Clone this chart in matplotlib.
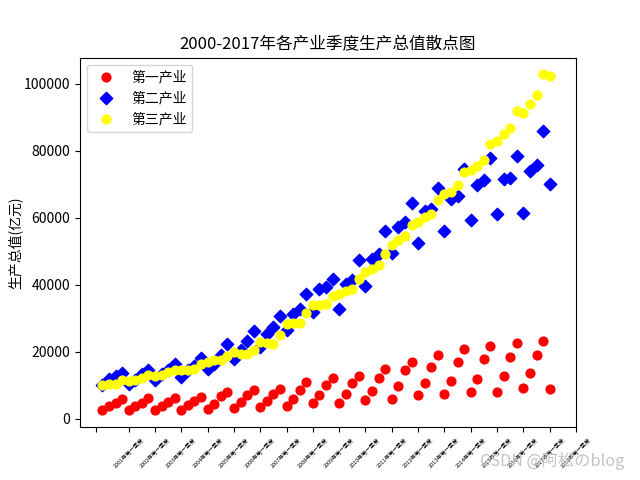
import numpy as np
import matplotlib
matplotlib.use("Agg")
import matplotlib.pyplot as plt

plt.rcParams['font.family'] = ['Noto Sans CJK SC', 'DejaVu Sans']
plt.rcParams['axes.unicode_minus'] = False

quarters = list(range(1, 70))

primary = [2478, 3672, 4766, 5860,
           2478, 3672, 4766, 6159,
           2478, 3672, 5066, 6259,
           2678, 3970, 5364, 6558,
           2976, 4468, 6857, 8051,
           3275, 4866, 7055, 8448,
           3373, 5263, 7254, 8946,
           3871, 5860, 8648, 10836,
           4766, 7055, 10040, 12030,
           4766, 7453, 10537, 12826,
           5463, 8349, 12129, 14916,
           5961, 9841, 14617, 17006,
           7155, 10737, 15513, 19095,
           7453, 11134, 17006, 20886,
           7851, 11930, 17802, 21780,
           8051, 12826, 18498, 22677,
           9245, 13722, 18895, 23274,
           8946]

secondary = [9940, 11731, 12626, 13731,
             10448, 11433, 13224, 14418,
             11433, 13224, 14418, 16209,
             12418, 14418, 15702, 18209,
             14925, 16209, 18895, 22388,
             17910, 20597, 23164, 26149,
             21373, 25373, 27343, 30627,
             26357, 31343, 32835, 37104,
             31821, 38805, 39283, 41582,
             32835, 40297, 41492, 47253,
             39700, 47760, 49044, 56000,
             49432, 57194, 58687, 64358,
             52536, 61880, 62686, 68954,
             56118, 65460, 66450, 74625,
             59402, 69640, 71133, 77910,
             60985, 71640, 71820, 78500,
             61490, 73910, 75610, 85760,
             70150]

tertiary = [10150, 10240, 10240, 11433,
            11134, 11433, 12230, 12925,
            12626, 12925, 13913, 14626,
            14418, 14418, 14925, 16418,
            16905, 17612, 17403, 18597,
            19880, 19403, 19403, 20597,
            22865, 22567, 22388, 24866,
            28148, 28537, 28537, 31522,
            33820, 33820, 34118, 36506,
            37313, 38098, 38795, 41780,
            43770, 44566, 45760, 49244,
            51930, 53224, 54418, 57700,
            58696, 60189, 61184, 65363,
            66955, 67650, 69640, 73620,
            74118, 75312, 77103, 82078,
            82774, 85064, 86855, 91829,
            91232, 93820, 96507, 102774,
            102177]

tick_pos = [0] + list(range(5, 74, 4))
tick_labels = [''] + [f'{y}年第一季度' for y in range(2001, 2019)]
series_names = ['第一产业', '第二产业', '第三产业']

fig = plt.figure(figsize=(6.4, 4.8), dpi=100)
ax = fig.add_subplot(111)
ax.scatter(quarters, primary, marker='o', c='red', s=40)
ax.scatter(quarters, secondary, marker='D', c='blue', s=40)
ax.scatter(quarters, tertiary, marker='o', c='yellow', s=40)
ax.set_ylabel('生产总值(亿元)')
ax.yaxis.set_label_coords(-0.117, 0.5)
ax.set_xticks(tick_pos)
ax.set_xticklabels(tick_labels, rotation=45, fontsize=4)
ax.set_title('2000-2017年各产业季度生产总值散点图')
ax.legend(series_names, loc='upper left')

fig.text(0.75, 0.03, 'CSDN @阿松のblog', fontsize=11.7, color='#c4c4c4')

fig.savefig('out.png', dpi=100)
